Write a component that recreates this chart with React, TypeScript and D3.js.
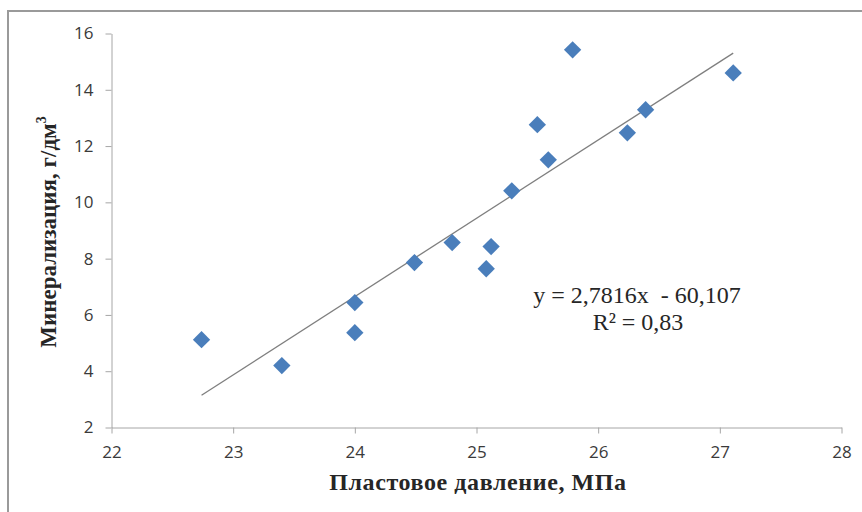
import { useEffect, useRef } from "react";
import * as d3 from "d3";

// plastovoe davlenie (MPa) vs mineralizaciya (g/dm3)
const pressure = [22.74, 23.4, 24.0, 24.0, 24.49, 24.8, 25.08, 25.12, 25.29, 25.5, 25.59, 25.79, 26.24, 26.39, 27.11];
const mineral = [5.12, 4.2, 6.44, 5.37, 7.86, 8.57, 7.64, 8.43, 10.41, 12.76, 11.51, 15.42, 12.47, 13.29, 14.6];
const xTicks = [22, 23, 24, 25, 26, 27, 28];
const yTicks = [2, 4, 6, 8, 10, 12, 14, 16];
const slope = 2.7816;
const intercept = -60.107;

export default function App() {
  const svgRef = useRef<SVGSVGElement>(null);

  useEffect(() => {
    if (!svgRef.current) return;
    const svg = d3.select(svgRef.current);
    svg.selectAll("*").remove();

    const W = 862, H = 512;
    const x = d3.scaleLinear().domain([22, 28]).range([111.5, 841.5]);
    const y = d3.scaleLinear().domain([2, 16]).range([427.5, 33.5]);

    svg.append("rect").attr("width", W).attr("height", H).attr("fill", "#fff");

    // outer frame
    svg.append("path")
      .attr("d", `M8,${H} V11 H${W}`)
      .attr("fill", "none")
      .attr("stroke", "#9a9a9a")
      .attr("stroke-width", 2);

    const tickFont = "'Open Sans', 'Noto Sans', sans-serif";

    // x axis
    const xAxis = svg.append("g")
      .attr("transform", `translate(0,${y(2)})`)
      .call(d3.axisBottom(x).tickValues(xTicks).tickFormat(d3.format("d")).tickSize(6).tickSizeOuter(0).tickPadding(12));
    xAxis.select(".domain").attr("stroke", "#a6a6a6");
    xAxis.selectAll(".tick line").attr("stroke", "#a6a6a6");
    xAxis.selectAll(".tick text")
      .attr("fill", "#3a3a3a")
      .attr("font-family", tickFont)
      .attr("font-size", 17);

    // y axis
    const yAxis = svg.append("g")
      .attr("transform", `translate(${x(22)},0)`)
      .call(d3.axisLeft(y).tickValues(yTicks).tickFormat(d3.format("d")).tickSize(6).tickSizeOuter(0).tickPadding(12));
    yAxis.select(".domain").attr("stroke", "#a6a6a6");
    yAxis.selectAll(".tick line").attr("stroke", "#a6a6a6");
    yAxis.selectAll(".tick text")
      .attr("fill", "#3a3a3a")
      .attr("font-family", tickFont)
      .attr("font-size", 17);

    // trend line over data range
    const [x0, x1] = d3.extent(pressure) as [number, number];
    svg.append("line")
      .attr("x1", x(x0)).attr("y1", y(slope * x0 + intercept))
      .attr("x2", x(x1)).attr("y2", y(slope * x1 + intercept))
      .attr("stroke", "#7f7f7f")
      .attr("stroke-width", 1.3);

    // diamonds
    const sym = d3.symbol().type(d3.symbolSquare).size(150);
    svg.selectAll("path.pt")
      .data(pressure)
      .enter()
      .append("path")
      .attr("class", "pt")
      .attr("d", sym)
      .attr("transform", (d, i) => `translate(${x(d)},${y(mineral[i])}) rotate(45)`)
      .attr("fill", "#4a7ebb");

    const serif = "'Liberation Serif', 'Times New Roman', serif";

    // equation
    svg.append("text")
      .attr("x", 637).attr("y", 303)
      .attr("text-anchor", "middle")
      .attr("font-family", serif)
      .attr("font-size", 24)
      .attr("fill", "#262626")
      .attr("xml:space", "preserve")
      .text("y = 2,7816x  - 60,107");
    svg.append("text")
      .attr("x", 638).attr("y", 330)
      .attr("text-anchor", "middle")
      .attr("font-family", serif)
      .attr("font-size", 24)
      .attr("fill", "#262626")
      .text("R² = 0,83");

    // axis titles
    svg.append("text")
      .attr("x", 478).attr("y", 490)
      .attr("text-anchor", "middle")
      .attr("font-family", serif)
      .attr("font-weight", "bold")
      .attr("font-size", 24)
      .attr("letter-spacing", 0.6)
      .attr("fill", "#262626")
      .text("Пластовое давление, МПа");

    const yt = svg.append("text")
      .attr("transform", `translate(56,232) rotate(-90)`)
      .attr("text-anchor", "middle")
      .attr("font-family", serif)
      .attr("font-weight", "bold")
      .attr("font-size", 23)
      .attr("fill", "#262626");
    yt.append("tspan").text("Минерализация, г/дм");
    yt.append("tspan").attr("dy", -10).attr("font-size", 14).text("3");
  }, []);

  return (
    <svg
      ref={svgRef}
      width={862}
      height={512}
      style={{ position: "absolute", left: 0, top: 0 }}
    />
  );
}
